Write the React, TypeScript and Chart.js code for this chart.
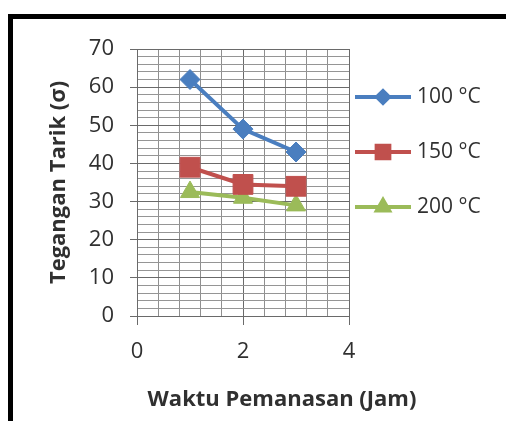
import React, { useEffect, useRef } from 'react';
import { Chart, registerables } from 'chart.js';
import { drawPoint } from 'chart.js/helpers';

Chart.register(...registerables);

const hours = [1, 2, 3];
const series100 = [62, 49, 43];
const series150 = [39, 34.5, 34];
const series200 = [32.5, 31, 29];
const seriesLabels = ['100 °C', '150 °C', '200 °C'];
const seriesColors = ['#4A7EBF', '#C0504D', '#9BBB59'];
const seriesMarkers = ['rectRot', 'rect', 'triangle'];
const markerRadius = [10, 14, 11];
const legendMarkerRadius = [6, 9, 7];
const xMajor = 2;
const yMajor = 10;
const yTitle = 'Tegangan Tarik (σ)';
const xTitle = 'Waktu Pemanasan (Jam)';

const FONT = "'Open Sans', 'Noto Sans', sans-serif";
const TEXT = '#303030';

const isMajor = (v: number, step: number) => Math.abs(v / step - Math.round(v / step)) < 1e-6;

const sideLegend = {
  id: 'sideLegend',
  afterDraw(chart: any) {
    const { ctx, chartArea } = chart;
    const x0 = chartArea.right + 6;
    const rows = [chartArea.top + 48, chartArea.top + 103, chartArea.top + 158];
    chart.data.datasets.forEach((ds: any, i: number) => {
      const y = rows[i];
      ctx.save();
      ctx.strokeStyle = ds.borderColor;
      ctx.lineWidth = 4;
      ctx.beginPath();
      ctx.moveTo(x0, y);
      ctx.lineTo(x0 + 56, y);
      ctx.stroke();
      ctx.fillStyle = ds.backgroundColor;
      ctx.strokeStyle = ds.borderColor;
      drawPoint(ctx, { pointStyle: ds.pointStyle, rotation: 0, radius: legendMarkerRadius[i], borderWidth: 1 }, x0 + 28, y);
      ctx.fillStyle = TEXT;
      ctx.font = `21px ${FONT}`;
      ctx.textAlign = 'left';
      ctx.textBaseline = 'middle';
      ctx.fillText(ds.label, x0 + 62, y);
      ctx.restore();
    });
  },
};

const xTitlePlugin = {
  id: 'xTitlePlugin',
  afterDraw(chart: any) {
    const { ctx, chartArea } = chart;
    ctx.save();
    ctx.fillStyle = TEXT;
    ctx.font = `bold 22px ${FONT}`;
    ctx.textAlign = 'center';
    ctx.textBaseline = 'middle';
    ctx.fillText(xTitle, chartArea.left + 145, chartArea.bottom + 84);
    ctx.restore();
  },
};

export default function App() {
  const ref = useRef<HTMLCanvasElement | null>(null);

  useEffect(() => {
    if (!ref.current) return;
    const allSeries = [series100, series150, series200];
    const chart = new Chart(ref.current, {
      type: 'line',
      data: {
        datasets: allSeries.map((vals, i) => ({
          label: seriesLabels[i],
          data: hours.map((h, j) => ({ x: h, y: vals[j] })),
          borderColor: seriesColors[i],
          backgroundColor: seriesColors[i],
          borderWidth: 4,
          pointStyle: seriesMarkers[i] as any,
          pointRadius: markerRadius[i],
          pointBorderWidth: 1,
          tension: 0,
        })),
      },
      plugins: [sideLegend, xTitlePlugin],
      options: {
        animation: false,
        responsive: false,
        devicePixelRatio: 1,
        layout: { padding: { top: 30, right: 157, left: 0, bottom: 0 } },
        plugins: { legend: { display: false }, tooltip: { enabled: false } },
        scales: {
          x: {
            type: 'linear',
            min: 0,
            max: 4,
            afterFit: (s: any) => { s.height = 105; },
            ticks: {
              stepSize: 0.4,
              autoSkip: false,
              maxRotation: 0,
              padding: 14,
              color: TEXT,
              font: { family: FONT, size: 22 },
              callback: (v: any) => (isMajor(Number(v), xMajor) ? String(Math.round(Number(v))) : ''),
            },
            grid: {
              color: (c: any) => (isMajor(c.tick.value, xMajor) ? '#6a6a6a' : '#8f8f8f'),
              tickColor: (c: any) => (isMajor(c.tick.value, xMajor) ? '#6a6a6a' : 'rgba(0,0,0,0)'),
              tickLength: 9,
              lineWidth: 1,
            },
            border: { color: '#6a6a6a' },
          },
          y: {
            type: 'linear',
            min: 0,
            max: 70,
            afterFit: (s: any) => { s.width = 124; },
            ticks: {
              stepSize: 2,
              autoSkip: false,
              padding: 16,
              color: TEXT,
              font: { family: FONT, size: 22 },
              callback: (v: any) => (isMajor(Number(v), yMajor) ? String(Math.round(Number(v))) : ''),
            },
            grid: {
              color: (c: any) => (isMajor(c.tick.value, yMajor) ? '#6a6a6a' : '#959595'),
              tickColor: (c: any) => (isMajor(c.tick.value, yMajor) ? '#6a6a6a' : 'rgba(0,0,0,0)'),
              tickLength: 7,
              lineWidth: 1,
            },
            border: { color: '#6a6a6a' },
            title: {
              display: true,
              text: yTitle,
              color: TEXT,
              font: { family: FONT, size: 22, weight: 'bold' },
              padding: { top: 33, bottom: 0 },
            },
          },
        },
      },
    });
    return () => chart.destroy();
  }, []);

  return (
    <div
      style={{
        position: 'fixed',
        left: 8,
        top: 14,
        width: 540,
        height: 440,
        borderLeft: '5px solid #000',
        borderTop: '5px solid #000',
        background: '#fff',
      }}
    >
      <canvas ref={ref} width={493} height={402} style={{ display: 'block', width: 493, height: 402 }} />
    </div>
  );
}
